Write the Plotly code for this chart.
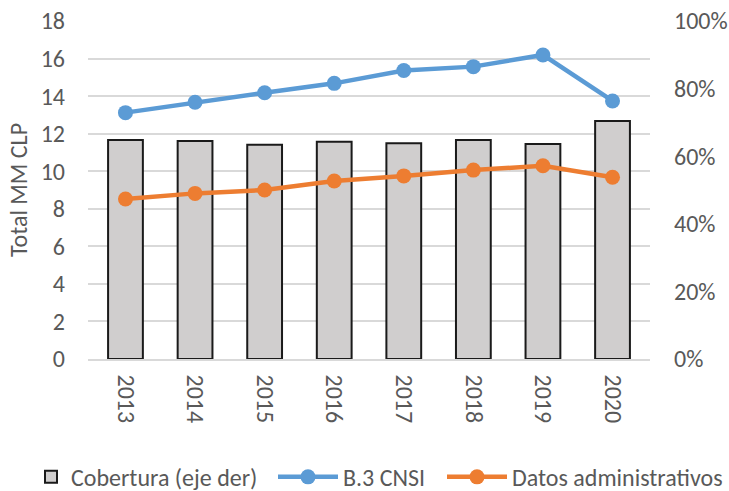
import plotly.graph_objects as go

years = ["2013", "2014", "2015", "2016", "2017", "2018", "2019", "2020"]
cobertura = [0.648, 0.645, 0.634, 0.643, 0.638, 0.648, 0.636, 0.704]
cnsi = [13.12, 13.67, 14.18, 14.68, 15.36, 15.57, 16.19, 13.74]
datos_adm = [8.52, 8.82, 9.00, 9.48, 9.75, 10.06, 10.29, 9.68]

font_family = "Carlito, Liberation Sans, Arial, sans-serif"
txt = "#595959"
fs = 24

fig = go.Figure()
fig.add_trace(go.Bar(
    x=years, y=cobertura, name="Cobertura (eje der)", yaxis="y", legend="legend",
    marker=dict(color="#d0cece", line=dict(color="#1a1a1a", width=2)),
    width=0.5,
))
fig.add_trace(go.Scatter(
    x=years, y=cnsi, name="B.3 CNSI", yaxis="y2", mode="lines+markers", legend="legend2",
    line=dict(color="#5b9bd5", width=4.5), marker=dict(size=15, color="#5b9bd5"),
))
fig.add_trace(go.Scatter(
    x=years, y=datos_adm, name="Datos administrativos", yaxis="y2", mode="lines+markers",
    legend="legend3",
    line=dict(color="#ed7d31", width=4.5), marker=dict(size=15, color="#ed7d31"),
))

def leg(xpx, iw):
    return dict(
        orientation="h", xref="container", yref="container",
        x=xpx / 729, xanchor="left", y=0.028, yanchor="middle",
        font=dict(size=fs, color=txt), itemwidth=iw, bgcolor="rgba(0,0,0,0)",
    )

fig.update_layout(
    width=729, height=491,
    margin=dict(l=88, r=79, t=21, b=132, autoexpand=False),
    paper_bgcolor="white", plot_bgcolor="white",
    font=dict(family=font_family, size=fs, color=txt),
    xaxis=dict(
        tickangle=90, showgrid=False, showline=True, linecolor="#d9d9d9", linewidth=1.5,
        ticks="", tickfont=dict(size=fs, color=txt), automargin=False,
        ticklabelstandoff=9,
    ),
    yaxis=dict(
        side="right", range=[0, 1], tickvals=[0, 0.2, 0.4, 0.6, 0.8, 1.0],
        tickformat=".0%", showgrid=False, zeroline=False, ticks="",
        tickfont=dict(size=fs, color=txt), ticklabelstandoff=23, automargin=False,
    ),
    yaxis2=dict(
        overlaying="y", side="left", range=[0, 18], dtick=2,
        showgrid=True, gridcolor="#d9d9d9", gridwidth=1.5, zeroline=False, ticks="",
        tickfont=dict(size=fs, color=txt),
        title=dict(text="Total MM CLP", font=dict(size=fs, color=txt), standoff=6),
        ticklabelstandoff=22, automargin=False,
    ),
    legend=leg(31, 30),
    legend2=leg(273, 60),
    legend3=leg(442, 60),
    showlegend=True,
)

fig.write_html(
    "out.html",
    config={"displayModeBar": False},
    post_script="document.body.style.margin='0';document.body.style.overflow='hidden';",
)
